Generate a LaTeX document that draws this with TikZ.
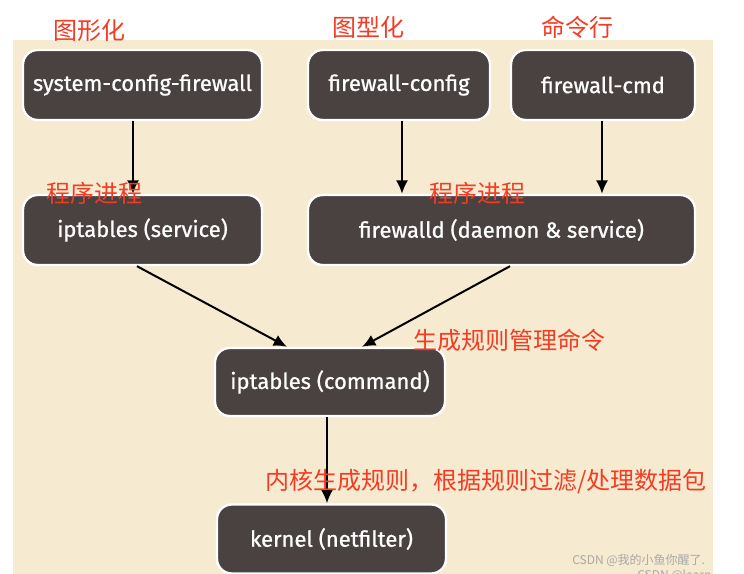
\documentclass[tikz,border=0pt]{standalone}
\usepackage{fontspec}
\usetikzlibrary{arrows.meta}
\setmainfont{Fira Sans}[FakeBold=0.9]
\newfontfamily\cjk{Noto Sans CJK SC}
\definecolor{bgbeige}{HTML}{F6EBD0}
\definecolor{boxfill}{HTML}{4A4141}
\definecolor{lblred}{HTML}{F43C24}
\definecolor{wmgrey}{HTML}{A8A8A8}
\begin{document}
\begin{tikzpicture}[x=0.75pt,y=-0.75pt,
  box/.style={draw=white,line width=1.8pt,fill=boxfill,rounded corners=11pt,
    text=white,font=\fontsize{16.5}{18}\selectfont,inner sep=0pt,anchor=center},
  lbl/.style={text=lblred,font=\cjk\fontsize{18}{20}\selectfont,inner sep=0pt},
  arr/.style={-{Latex[length=10pt,width=9pt]},line width=1.5pt,black}]
\useasboundingbox (0,0) rectangle (744,574);
\fill[white] (0,0) rectangle (744,574);
\fill[bgbeige] (13,40) rectangle (713,574);
% boxes
\node[box,minimum width=239*0.75pt,minimum height=70*0.75pt] (scf) at (142.5,85) {system-config-firewall};
\node[box,minimum width=182*0.75pt,minimum height=70*0.75pt] (fwc) at (399,85) {firewall-config};
\node[box,minimum width=184*0.75pt,minimum height=70*0.75pt] (fcmd) at (603,85) {firewall-cmd};
\node[box,minimum width=239*0.75pt,minimum height=70*0.75pt] (ips) at (142.5,230) {iptables (service)};
\node[box,minimum width=387*0.75pt,minimum height=70*0.75pt] (fwd) at (501.5,230) {firewalld (daemon \& service)};
\node[box,minimum width=230*0.75pt,minimum height=68*0.75pt] (ipc) at (330,382) {iptables (command)};
\node[box,minimum width=229*0.75pt,minimum height=69*0.75pt] (ker) at (331.5,539) {kernel (netfilter)};
% arrows
\draw[arr] (scf.south -| 133,0) -- (ips.north -| 133,0);
\draw[arr] (fwc.south -| 402,0) -- (fwd.north -| 402,0);
\draw[arr] (fcmd.south -| 602,0) -- (fwd.north -| 602,0);
\draw[arr] (ips.south -| 137,0) -- (ipc.north -| 287,0);
\draw[arr] (fwd.south -| 510,0) -- (ipc.north -| 362,0);
\draw[arr] (ipc.south -| 327,0) -- (ker.north -| 327,0);
% labels
\node[lbl] (l1) at (90,30) {图形化};
\node[lbl] (l2) at (368,27) {图型化};
\node[lbl] (l3) at (577,27) {命令行};
\node[lbl] (l4) at (94,193) {程序进程};
\node[lbl] (l5) at (477,193) {程序进程};
\node[lbl] (l6) at (509,340) {生成规则管理命令};
\node[lbl] (l7) at (486,482) {内核生成规则，根据规则过滤/处理数据包};
\node[text=wmgrey,font=\cjk\fontsize{9}{10}\selectfont,inner sep=0pt,anchor=west] (wm1) at (572,560) {CSDN @我的小鱼你醒了.};
\node[text=wmgrey,font=\cjk\fontsize{9}{10}\selectfont,inner sep=0pt,anchor=west] (wm2) at (637,576) {CSDN @learn};
\end{tikzpicture}
\end{document}
